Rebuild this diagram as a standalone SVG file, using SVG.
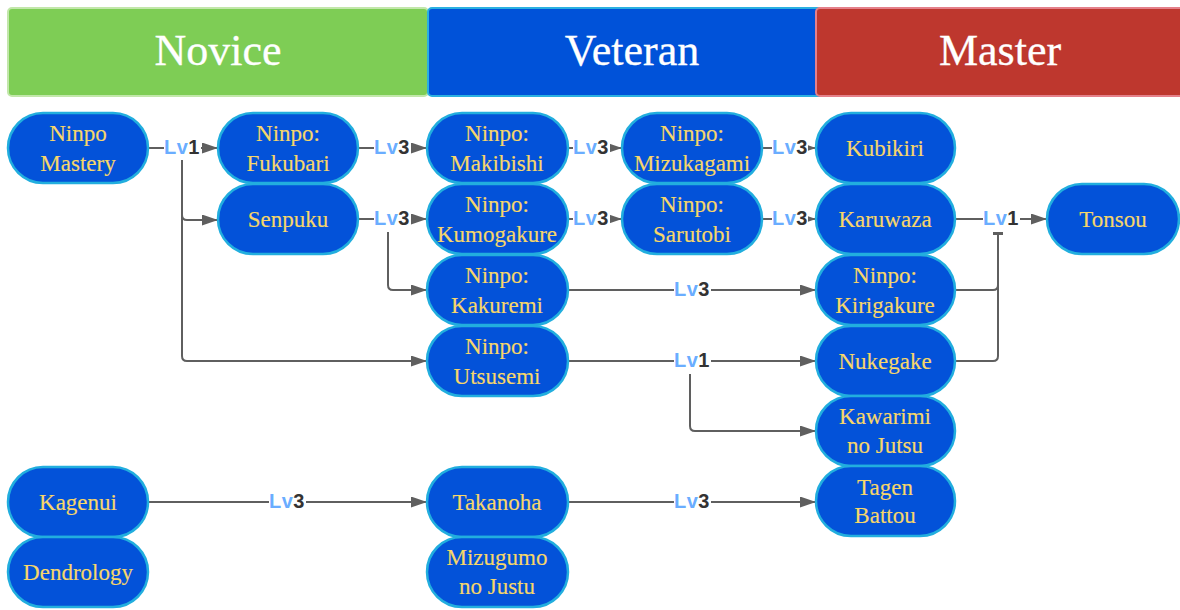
<svg xmlns="http://www.w3.org/2000/svg" width="1180" height="610" viewBox="0 0 1180 610">
  <style>
    .hdr-text { font-family: "Liberation Serif", "DejaVu Serif", serif; font-size: 44px; fill: #ffffff; stroke: #ffffff; stroke-width: 0.3; text-anchor: middle; }
    .node rect { fill: #0352d9; stroke: #22aede; stroke-width: 2.5; }
    .node text { font-family: "Liberation Serif", "DejaVu Serif", serif; font-size: 23px; fill: #f7d769; stroke: #f7d769; stroke-width: 0.15; text-anchor: middle; }
    .edge { fill: none; stroke: #5f5f5f; stroke-width: 2; }
    .arrow { marker-end: url(#head); }
    .lbl-bg { fill: #ffffff; }
    .lbl { font-family: "Liberation Sans", Arial, sans-serif; font-size: 20px; font-weight: bold; fill: #6aadff; text-anchor: middle; letter-spacing: 0.5px; }
    .lbl tspan { fill: #333333; }
    .cap { fill: #5f5f5f; }
  </style>
  <defs>
    <marker id="head" markerWidth="16" markerHeight="11" refX="16" refY="5.5" orient="auto" markerUnits="userSpaceOnUse">
      <path d="M0,0 L16,5.5 L0,11 Z" fill="#5f5f5f"/>
    </marker>
  </defs>

  <rect width="1180" height="610" fill="#ffffff"/>

  <!-- tier headers -->
  <g id="header-novice">
    <rect x="8" y="8" width="420" height="88" rx="4" fill="#7ecd55" stroke="#c2e7aa" stroke-width="2"/>
    <text class="hdr-text" x="218" y="65">Novice</text>
  </g>
  <g id="header-veteran">
    <rect x="428" y="8" width="410" height="88" rx="4" fill="#0052d9" stroke="#2bb0e0" stroke-width="2"/>
    <text class="hdr-text" x="632" y="65">Veteran</text>
  </g>
  <g id="header-master">
    <rect x="816" y="8" width="372" height="88" rx="4" fill="#be372e" stroke="#e5808a" stroke-width="2"/>
    <text class="hdr-text" x="1000" y="65">Master</text>
  </g>

  <!-- connectors -->
  <g id="connectors">
    <path class="edge arrow" d="M148,148 H218"/>
    <path class="edge arrow" d="M182,160 V215 Q182,220 187,220 H218"/>
    <path class="edge arrow" d="M182,160 V356 Q182,361 187,361 H427"/>
    <path class="edge arrow" d="M358,148 H427"/>
    <path class="edge arrow" d="M358,219 H427"/>
    <path class="edge arrow" d="M388,232 V285 Q388,290 393,290 H427"/>
    <path class="edge arrow" d="M568,148 H622"/>
    <path class="edge arrow" d="M568,219 H622"/>
    <path class="edge arrow" d="M762,148 H816"/>
    <path class="edge arrow" d="M762,219 H816"/>
    <path class="edge arrow" d="M568,290 H816"/>
    <path class="edge arrow" d="M568,361 H816"/>
    <path class="edge arrow" d="M690,374 V426 Q690,431 695,431 H816"/>
    <path class="edge arrow" d="M956,219 H1047"/>
    <path class="edge" d="M956,290 H993 Q998,290 998,285 V234"/>
    <path class="edge" d="M956,361 H993 Q998,361 998,356 V234"/>
    <rect class="cap" x="993" y="232" width="10" height="3"/>
    <path class="edge arrow" d="M148,502 H427"/>
    <path class="edge arrow" d="M568,502 H816"/>

    <!-- level labels -->
    <rect class="lbl-bg" x="164" y="137" width="37" height="20"/>
    <text class="lbl" x="182" y="154">Lv<tspan>1</tspan></text>
    <rect class="lbl-bg" x="374" y="137" width="37" height="20"/>
    <text class="lbl" x="392" y="154">Lv<tspan>3</tspan></text>
    <rect class="lbl-bg" x="374" y="208" width="37" height="20"/>
    <text class="lbl" x="392" y="225">Lv<tspan>3</tspan></text>
    <rect class="lbl-bg" x="573" y="137" width="37" height="20"/>
    <text class="lbl" x="591" y="154">Lv<tspan>3</tspan></text>
    <rect class="lbl-bg" x="573" y="208" width="37" height="20"/>
    <text class="lbl" x="591" y="225">Lv<tspan>3</tspan></text>
    <rect class="lbl-bg" x="772" y="137" width="36" height="20"/>
    <text class="lbl" x="790" y="154">Lv<tspan>3</tspan></text>
    <rect class="lbl-bg" x="772" y="208" width="36" height="20"/>
    <text class="lbl" x="790" y="225">Lv<tspan>3</tspan></text>
    <rect class="lbl-bg" x="674" y="279" width="37" height="20"/>
    <text class="lbl" x="692" y="296">Lv<tspan>3</tspan></text>
    <rect class="lbl-bg" x="674" y="350" width="37" height="20"/>
    <text class="lbl" x="692" y="367">Lv<tspan>1</tspan></text>
    <rect class="lbl-bg" x="983" y="208" width="37" height="20"/>
    <text class="lbl" x="1001" y="225">Lv<tspan>1</tspan></text>
    <rect class="lbl-bg" x="269" y="491" width="37" height="20"/>
    <text class="lbl" x="287" y="508">Lv<tspan>3</tspan></text>
    <rect class="lbl-bg" x="674" y="491" width="37" height="20"/>
    <text class="lbl" x="692" y="508">Lv<tspan>3</tspan></text>
  </g>

  <!-- Novice column -->
  <g id="ninpo-mastery" class="node">
    <rect x="8" y="113" width="140" height="70" rx="35"/>
    <text x="78" y="141">Ninpo</text>
    <text x="78" y="171">Mastery</text>
  </g>
  <g id="ninpo-fukubari" class="node">
    <rect x="218" y="113" width="140" height="70" rx="35"/>
    <text x="288" y="141">Ninpo:</text>
    <text x="288" y="171">Fukubari</text>
  </g>
  <g id="senpuku" class="node">
    <rect x="218" y="184" width="140" height="70" rx="35"/>
    <text x="288" y="227">Senpuku</text>
  </g>
  <g id="kagenui" class="node">
    <rect x="8" y="467" width="140" height="70" rx="35"/>
    <text x="78" y="510">Kagenui</text>
  </g>
  <g id="dendrology" class="node">
    <rect x="8" y="537" width="140" height="70" rx="35"/>
    <text x="78" y="580">Dendrology</text>
  </g>

  <!-- Veteran column -->
  <g id="ninpo-makibishi" class="node">
    <rect x="427" y="113" width="141" height="70" rx="35"/>
    <text x="497" y="141">Ninpo:</text>
    <text x="497" y="171">Makibishi</text>
  </g>
  <g id="ninpo-kumogakure" class="node">
    <rect x="427" y="184" width="141" height="70" rx="35"/>
    <text x="497" y="212">Ninpo:</text>
    <text x="497" y="242">Kumogakure</text>
  </g>
  <g id="ninpo-kakuremi" class="node">
    <rect x="427" y="255" width="141" height="70" rx="35"/>
    <text x="497" y="283">Ninpo:</text>
    <text x="497" y="313">Kakuremi</text>
  </g>
  <g id="ninpo-utsusemi" class="node">
    <rect x="427" y="326" width="141" height="70" rx="35"/>
    <text x="497" y="354">Ninpo:</text>
    <text x="497" y="384">Utsusemi</text>
  </g>
  <g id="takanoha" class="node">
    <rect x="427" y="467" width="141" height="70" rx="35"/>
    <text x="497" y="510">Takanoha</text>
  </g>
  <g id="mizugumo-no-justu" class="node">
    <rect x="427" y="537" width="141" height="70" rx="35"/>
    <text x="497" y="565">Mizugumo</text>
    <text x="497" y="594">no Justu</text>
  </g>
  <g id="ninpo-mizukagami" class="node">
    <rect x="622" y="113" width="140" height="70" rx="35"/>
    <text x="692" y="141">Ninpo:</text>
    <text x="692" y="171">Mizukagami</text>
  </g>
  <g id="ninpo-sarutobi" class="node">
    <rect x="622" y="184" width="140" height="70" rx="35"/>
    <text x="692" y="212">Ninpo:</text>
    <text x="692" y="242">Sarutobi</text>
  </g>

  <!-- Master column -->
  <g id="kubikiri" class="node">
    <rect x="816" y="113" width="139" height="70" rx="35"/>
    <text x="885" y="156">Kubikiri</text>
  </g>
  <g id="karuwaza" class="node">
    <rect x="816" y="184" width="139" height="70" rx="35"/>
    <text x="885" y="227">Karuwaza</text>
  </g>
  <g id="ninpo-kirigakure" class="node">
    <rect x="816" y="255" width="139" height="70" rx="35"/>
    <text x="885" y="283">Ninpo:</text>
    <text x="885" y="313">Kirigakure</text>
  </g>
  <g id="nukegake" class="node">
    <rect x="816" y="326" width="139" height="70" rx="35"/>
    <text x="885" y="369">Nukegake</text>
  </g>
  <g id="kawarimi-no-jutsu" class="node">
    <rect x="816" y="396" width="139" height="70" rx="35"/>
    <text x="885" y="424">Kawarimi</text>
    <text x="885" y="453">no Jutsu</text>
  </g>
  <g id="tagen-battou" class="node">
    <rect x="816" y="466" width="139" height="70" rx="35"/>
    <text x="885" y="495">Tagen</text>
    <text x="885" y="523">Battou</text>
  </g>
  <g id="tonsou" class="node">
    <rect x="1047" y="184" width="132" height="70" rx="35"/>
    <text x="1113" y="227">Tonsou</text>
  </g>
</svg>
